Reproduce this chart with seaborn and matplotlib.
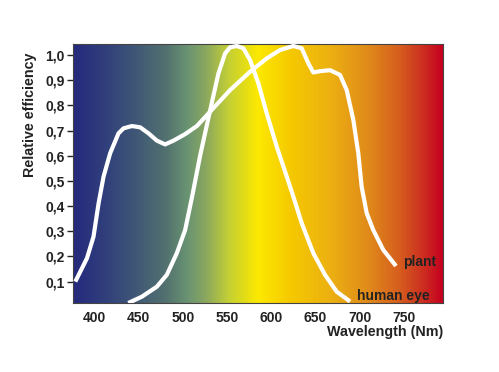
import numpy as np
import pandas as pd
import matplotlib
matplotlib.use("Agg")
import matplotlib.pyplot as plt
from matplotlib.colors import LinearSegmentedColormap
import seaborn as sns

# relative efficiency curves
plant_nm = [378.6, 391.8, 399.2, 404.9, 410.5, 418, 427.4, 433.1, 442.5, 451.9,
            461.3, 470.8, 480.1, 489.5, 502.7, 515.9, 530.9, 553.5, 576.1, 594.9,
            609.9, 624.9, 634.4, 641.9, 647.5, 655, 666.4, 677.7, 685.2, 692.7,
            698.3, 702.1, 707.8, 715.2, 726.5, 740.9]
plant_eff = [0.100, 0.193, 0.279, 0.411, 0.517, 0.610, 0.689, 0.709, 0.718, 0.713,
             0.689, 0.660, 0.645, 0.660, 0.686, 0.718, 0.775, 0.861, 0.934, 0.987,
             1.020, 1.036, 1.027, 0.967, 0.931, 0.936, 0.940, 0.921, 0.861, 0.742,
             0.610, 0.477, 0.372, 0.305, 0.226, 0.162]

eye_nm = [438.4, 453.8, 470.8, 482, 493.3, 502.7, 511, 519.6, 530.9, 540.3, 547.9,
          553.5, 561.1, 568.5, 576.1, 585.4, 594.9, 606.2, 617.5, 625, 634.4, 647.5,
          660.7, 673.9, 689]
eye_eff = [0.015, 0.040, 0.080, 0.127, 0.213, 0.305, 0.445, 0.600, 0.780, 0.927,
           1.007, 1.031, 1.036, 1.027, 0.980, 0.888, 0.768, 0.636, 0.517, 0.437,
           0.332, 0.213, 0.127, 0.060, 0.021]

x_ticks = [400, 450, 500, 550, 600, 650, 700, 750]
y_ticks = [0.1, 0.2, 0.3, 0.4, 0.5, 0.6, 0.7, 0.8, 0.9, 1.0]
y_labels = ["0,1", "0,2", "0,3", "0,4", "0,5", "0,6", "0,7", "0,8", "0,9", "1,0"]

# spectrum colours behind the curves
spectrum = [(0.0, "#25297c"), (0.07, "#2e3b7c"), (0.16, "#3e5577"), (0.25, "#52716f"),
            (0.31, "#6a9472"), (0.36, "#8ca85e"), (0.42, "#c3cf35"),
            (0.50, "#fde900"), (0.59, "#f5c900"), (0.70, "#ecaf12"),
            (0.80, "#e08a1a"), (0.88, "#d6601e"), (0.95, "#cc2d20"), (1.0, "#c6001f")]

sns.set_style("white")
plt.rcParams["font.family"] = ["Liberation Sans", "DejaVu Sans"]

fig = plt.figure(figsize=(4.99, 3.72), dpi=100)
ax = fig.add_axes([73 / 499, 1 - 303 / 372, 370 / 499, 259 / 372])

xmin, xmax = 376, 794
ymin, ymax = 0.015, 1.044
cmap = LinearSegmentedColormap.from_list("spec", spectrum)
ax.imshow(np.linspace(0, 1, 512)[None, :], cmap=cmap, aspect="auto",
          extent=[xmin, xmax, ymin, ymax], zorder=0)

df_plant = pd.DataFrame({"nm": plant_nm, "eff": plant_eff})
df_eye = pd.DataFrame({"nm": eye_nm, "eff": eye_eff})
sns.lineplot(data=df_plant, x="nm", y="eff", color="white", linewidth=3.0, ax=ax,
             solid_capstyle="butt", solid_joinstyle="round", zorder=3)
sns.lineplot(data=df_eye, x="nm", y="eff", color="white", linewidth=3.0, ax=ax,
             solid_capstyle="butt", solid_joinstyle="round", zorder=3)

ax.set_xlim(xmin, xmax)
ax.set_ylim(ymin, ymax)
ax.set_xticks(x_ticks)
ax.set_yticks(y_ticks)
ax.set_yticklabels(y_labels)
ax.tick_params(axis="x", length=0, pad=6, labelsize=10, colors="#222222")
ax.tick_params(axis="y", length=4, width=1, left=True, pad=2, labelsize=10,
               colors="#222222")
for lab in ax.get_xticklabels() + ax.get_yticklabels():
    lab.set_fontweight("bold")
for s in ax.spines.values():
    s.set_color("#444444")
    s.set_linewidth(0.8)

ax.set_xlabel("")
ax.set_ylabel("")
fig.text(30 / 499, 1 - 115 / 372, "Relative efficiency", rotation=90, ha="center",
         va="center", fontsize=10.3, fontweight="bold", color="#222222")
fig.text(443 / 499, 1 - 332 / 372, "Wavelength (Nm)", ha="right", va="center",
         fontsize=10.3, fontweight="bold", color="#222222")

ax.text(748.5, 0.178, "plant", fontsize=10, fontweight="bold",
        color="#222222", va="center", ha="left", zorder=4)
ax.text(697, 0.043, "human eye", fontsize=10, fontweight="bold",
        color="#222222", va="center", ha="left", zorder=4)

fig.savefig("out.png", dpi=100)
